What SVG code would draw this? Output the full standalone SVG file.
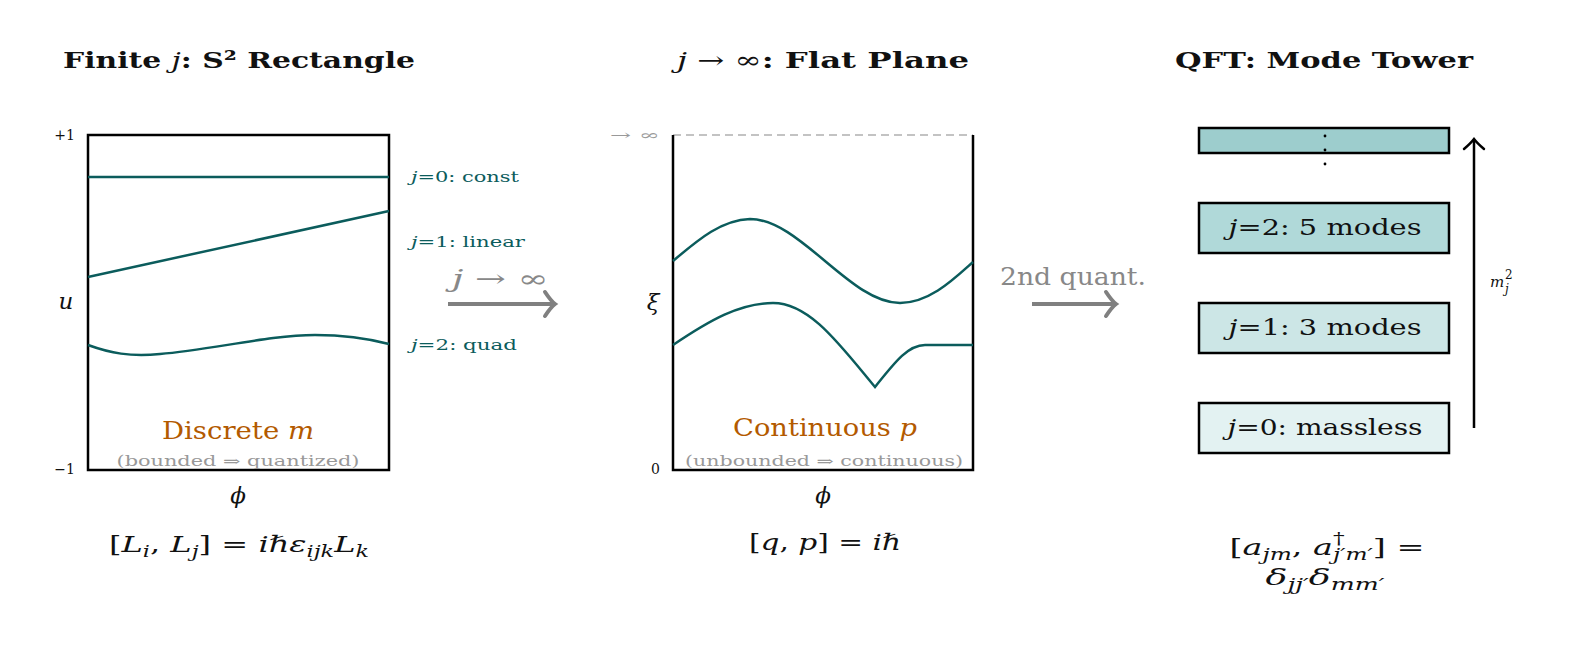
<svg xmlns="http://www.w3.org/2000/svg" width="1571" height="648" viewBox="0 0 1571 648">
<style>
text{font-family:"DejaVu Serif","Liberation Serif",serif;fill:#111}
.title{font-size:23px;font-weight:bold}
.m{font-size:23px}
.i{font-style:italic}
.s{font-size:16px}
.lab{font-size:14px;fill:#0b5c5c}
.tick{font-size:14px}
.orange{font-size:24px;fill:#b35a00}
.note{font-size:14px;fill:#999}
.gl{font-size:24px;fill:#888}
.frame{fill:none;stroke:#000;stroke-width:2.5}
.curve{fill:none;stroke:#0b5c5c;stroke-width:2.5}
.box{stroke:#000;stroke-width:2.5}
.garrow{stroke:#808080;stroke-width:4;fill:none}
</style>
<defs>
<marker id="ghead" markerUnits="userSpaceOnUse" viewBox="-14 -14 18 28" refX="0" refY="0" markerWidth="18" markerHeight="28" orient="auto" overflow="visible">
<path d="M-9,-12 Q-3,-3 1,0 Q-3,3 -9,12" fill="none" stroke="#808080" stroke-width="4" stroke-linecap="round"/>
</marker>
<marker id="khead" markerUnits="userSpaceOnUse" viewBox="-14 -14 18 28" refX="0" refY="0" markerWidth="18" markerHeight="28" orient="auto" overflow="visible">
<path d="M-9,-10 Q-3,-3 1,0 Q-3,3 -9,10" fill="none" stroke="#000" stroke-width="2.5" stroke-linecap="round"/>
</marker>
</defs>
<rect width="1571" height="648" fill="#fff"/>

<g id="panel-finite">
<text class="title" x="239" y="68" text-anchor="middle" textLength="352" lengthAdjust="spacingAndGlyphs">Finite <tspan class="i" font-weight="normal">j</tspan>: S² Rectangle</text>
<rect class="frame" x="88" y="135" width="301" height="335"/>
<line class="curve" x1="88" y1="177" x2="389" y2="177"/>
<line class="curve" x1="88" y1="277" x2="389" y2="211"/>
<path class="curve" d="M88,345 C110,353 130,357 160,354 C210,350 270,335 315,335 C345,335 370,339 389,344"/>
<text class="lab" x="411" y="182" textLength="108" lengthAdjust="spacingAndGlyphs"><tspan class="i">j</tspan>=0:  const</text>
<text class="lab" x="411" y="247" textLength="114" lengthAdjust="spacingAndGlyphs"><tspan class="i">j</tspan>=1:  linear</text>
<text class="lab" x="411" y="350" textLength="106" lengthAdjust="spacingAndGlyphs"><tspan class="i">j</tspan>=2:  quad</text>
<text class="tick" x="75" y="140" text-anchor="end">+1</text>
<text class="tick" x="75" y="474" text-anchor="end">−1</text>
<text class="m i" x="66" y="309" text-anchor="middle">u</text>
<text class="orange" x="238" y="439" text-anchor="middle" textLength="152" lengthAdjust="spacingAndGlyphs">Discrete <tspan class="i">m</tspan></text>
<text class="note" x="238" y="466" text-anchor="middle" textLength="243" lengthAdjust="spacingAndGlyphs">(bounded ⇒ quantized)</text>
<text class="m i" x="238" y="503" text-anchor="middle">ϕ</text>
<text class="m" x="239" y="552" text-anchor="middle" textLength="260" lengthAdjust="spacingAndGlyphs">[<tspan class="i">L</tspan><tspan class="s i" dy="5">i</tspan><tspan dy="-5">, </tspan><tspan class="i">L</tspan><tspan class="s i" dy="5">j</tspan><tspan dy="-5">] = </tspan><tspan class="i">iℏε</tspan><tspan class="s i" dy="5">ijk</tspan><tspan class="i" dy="-5">L</tspan><tspan class="s i" dy="5">k</tspan></text>
</g>

<g id="panel-flat">
<text class="title" x="823" y="68" text-anchor="middle" textLength="292" lengthAdjust="spacingAndGlyphs"><tspan class="i" font-weight="normal">j</tspan><tspan font-weight="normal"> → ∞</tspan>: Flat Plane</text>
<line x1="673" y1="135" x2="973" y2="135" stroke="#888" stroke-width="1.2" stroke-dasharray="8 5"/>
<path class="frame" d="M673,135 V470 H973 V135"/>
<path class="curve" d="M673,261 C700,238 722,220 750,219 C800,219 850,303 900,303 C930,303 955,278 973,262"/>
<path class="curve" d="M673,345 C710,320 740,303 773,303 C810,303 840,345 875,387 C895,362 908,345 925,345 L973,345"/>
<text class="tick" x="660" y="140" text-anchor="end" style="fill:#999" textLength="50" lengthAdjust="spacingAndGlyphs">→ ∞</text>
<text class="tick" x="660" y="474" text-anchor="end">0</text>
<text class="m i" x="653" y="310" text-anchor="middle">ξ</text>
<text class="orange" x="825" y="436" text-anchor="middle" textLength="184" lengthAdjust="spacingAndGlyphs">Continuous <tspan class="i">p</tspan></text>
<text class="note" x="824" y="466" text-anchor="middle" textLength="278" lengthAdjust="spacingAndGlyphs">(unbounded ⇒ continuous)</text>
<text class="m i" x="823" y="503" text-anchor="middle">ϕ</text>
<text class="m" x="825" y="550" text-anchor="middle" textLength="152" lengthAdjust="spacingAndGlyphs">[<tspan class="i">q</tspan>, <tspan class="i">p</tspan>]  =  <tspan class="i">iℏ</tspan></text>
</g>

<g id="panel-tower">
<text class="title" x="1324" y="68" text-anchor="middle" textLength="298" lengthAdjust="spacingAndGlyphs">QFT: Mode Tower</text>
<g id="box-top">
<rect class="box" x="1199" y="128" width="250" height="25" fill="#9dcdcd"/>
<circle cx="1325" cy="136" r="1.4" fill="#000"/>
<circle cx="1325" cy="150" r="1.4" fill="#000"/>
<circle cx="1325" cy="164" r="1.4" fill="#000"/>
</g>
<g id="box-j2">
<rect class="box" x="1199" y="203" width="250" height="50" fill="#b0d9d9"/>
<text class="m" x="1325" y="235" text-anchor="middle" textLength="193" lengthAdjust="spacingAndGlyphs"><tspan class="i">j</tspan>=2:  5 modes</text>
</g>
<g id="box-j1">
<rect class="box" x="1199" y="303" width="250" height="50" fill="#cce6e6"/>
<text class="m" x="1325" y="335" text-anchor="middle" textLength="193" lengthAdjust="spacingAndGlyphs"><tspan class="i">j</tspan>=1:  3 modes</text>
</g>
<g id="box-j0">
<rect class="box" x="1199" y="403" width="250" height="50" fill="#e3f2f2"/>
<text class="m" x="1325" y="435" text-anchor="middle" textLength="195" lengthAdjust="spacingAndGlyphs"><tspan class="i">j</tspan>=0:  massless</text>
</g>
<text class="i" x="1490" y="287" font-size="15">m</text>
<text x="1505" y="279" font-size="12">2</text>
<text class="i" x="1505" y="293" font-size="12">j</text>
<text class="m" x="1327" y="555" text-anchor="middle" textLength="195" lengthAdjust="spacingAndGlyphs">[<tspan class="i">a</tspan><tspan class="s i" dy="5">jm</tspan><tspan dy="-5">, </tspan><tspan class="i">a</tspan><tspan class="s" dy="-11">†</tspan><tspan class="s i" dx="-8" dy="16">j′m′</tspan><tspan dy="-5">]  =</tspan></text>
<text class="m" x="1325" y="585" text-anchor="middle" textLength="119" lengthAdjust="spacingAndGlyphs"><tspan class="i">δ</tspan><tspan class="s i" dy="5">jj′</tspan><tspan class="i" dy="-5">δ</tspan><tspan class="s i" dy="5">mm′</tspan></text>
</g>

<g id="connectors">
<line class="garrow" x1="448" y1="304" x2="554" y2="304" marker-end="url(#ghead)"/>
<text class="gl" x="500" y="287" text-anchor="middle" textLength="96" lengthAdjust="spacingAndGlyphs"><tspan class="i">j</tspan> → ∞</text>
<line class="garrow" x1="1032" y1="304" x2="1115" y2="304" marker-end="url(#ghead)"/>
<text class="gl" x="1073" y="285" text-anchor="middle" textLength="146" lengthAdjust="spacingAndGlyphs">2nd quant.</text>
<line x1="1474" y1="428" x2="1474" y2="140" stroke="#000" stroke-width="2.5" marker-end="url(#khead)"/>
</g>
</svg>
